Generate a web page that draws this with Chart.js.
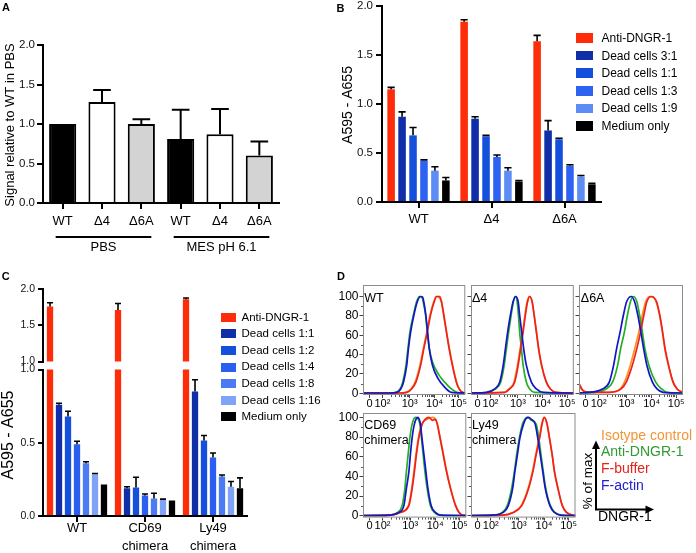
<!DOCTYPE html>
<html><head><meta charset="utf-8">
<script src="https://cdn.jsdelivr.net/npm/chart.js@4.4.1/dist/chart.umd.min.js"></script>
<style>
html,body{margin:0;padding:0;background:#fff;}
body{width:696px;height:553px;position:relative;overflow:hidden;font-family:"Liberation Sans",Arial,Helvetica,sans-serif;color:#000;}
canvas{position:absolute;}
.t{position:absolute;white-space:nowrap;font-weight:normal;}
.sw{position:absolute;}
</style></head><body>
<script>
// ================= DATA =================
// Panel A
const aCategories = ['WT', 'Δ4', 'Δ6A', 'WT', 'Δ4', 'Δ6A'];
const aValues = [1.00, 1.28, 1.00, 0.81, 0.87, 0.60];
const aSD     = [0, 0.15, 0.06, 0.37, 0.32, 0.18];
const aGroupLabels = ['PBS', 'MES pH 6.1'];
const aGroupOf = [0, 0, 0, 1, 1, 1];
const aYTicks = [0, 0.5, 1.0, 1.5, 2.0];
const aYTitle = 'Signal relative to WT in PBS';

// Panel B
const bCategories = ['WT', 'Δ4', 'Δ6A'];
const bSeries = ['Anti-DNGR-1', 'Dead cells 3:1', 'Dead cells 1:1', 'Dead cells 1:3', 'Dead cells 1:9', 'Medium only'];
const bAnti = [1.15, 1.84, 1.64];  const bAntiSD = [0.02, 0.02, 0.06];
const b3to1 = [0.87, 0.85, 0.73];  const b3to1SD = [0.05, 0.02, 0.10];
const b1to1 = [0.68, 0.67, 0.64];  const b1to1SD = [0.08, 0.01, 0.01];
const b1to3 = [0.42, 0.46, 0.37];  const b1to3SD = [0.01, 0.02, 0.01];
const b1to9 = [0.32, 0.32, 0.26];  const b1to9SD = [0.04, 0.03, 0.01];
const bMedium = [0.22, 0.21, 0.18]; const bMediumSD = [0.03, 0.01, 0.01];
const bYTicks = [0, 0.5, 1.0, 1.5, 2.0];
const abYTitle = 'A595 - A655';

// Panel C
const cCategories = ['WT', ['CD69', 'chimera'], ['Ly49', 'chimera']];
const cSeries = ['Anti-DNGR-1', 'Dead cells 1:1', 'Dead cells 1:2', 'Dead cells 1:4', 'Dead cells 1:8', 'Dead cells 1:16', 'Medium only'];
const cAnti  = [1.76, 1.71, 1.86];  const cAntiSD  = [0.05, 0.09, 0.015];
const c1to1  = [0.76, 0.19, 0.85];  const c1to1SD  = [0.01, 0.01, 0.08];
const c1to2  = [0.68, 0.195, 0.515]; const c1to2SD = [0.035, 0.07, 0.035];
const c1to4  = [0.49, 0.14, 0.40];  const c1to4SD  = [0.02, 0.01, 0.03];
const c1to8  = [0.36, 0.12, 0.27];  const c1to8SD  = [0.01, 0.035, 0.01];
const c1to16 = [0.285, 0.11, 0.20]; const c1to16SD = [0.005, 0.005, 0.035];
const cMedium = [0.215, 0.105, 0.19]; const cMediumSD = [0, 0, 0.07];
const cUpperTicks = [1.0, 1.5, 2.0];
const cLowerTicks = [0, 0.5, 1.0];
const cBreak = 1.0;

// Panel D (x in display units: ~log10 of fluorescence; y = % of max)
const dTickVals = [1.38, 1.9, 3, 4, 4.97];
const dTickLabels = ['0', '10²', '10³', '10⁴', '10⁵'];
const dYTicks = [0, 20, 40, 60, 80, 100];
const dSeries = ['Isotype control', 'Anti-DNGR-1', 'F-buffer', 'F-actin'];
const dPanelLabels = [['WT'], ['Δ4'], ['Δ6A'], ['CD69', 'chimera'], ['Ly49', 'chimera']];

const wtIso  = [[1.12,0.3],[2.6,0.3],[2.85,1.0],[3.05,4.5],[3.22,11.5],[3.41,28.8],[3.55,46.2],[3.69,63.5],[3.82,80.9],[3.97,94.8],[4.07,100],[4.18,99],[4.27,95],[4.37,82],[4.48,64],[4.6,46],[4.73,29],[4.89,11.5],[5.0,4.5],[5.12,1.0],[5.24,0.5]];
const wtAnti = [[1.12,0.3],[2.2,0.3],[2.45,1.0],[2.61,4.5],[2.72,11.5],[2.85,28.8],[2.93,46.2],[3.01,63.5],[3.15,80.9],[3.28,94.8],[3.39,100],[3.49,99.3],[3.57,91.3],[3.64,80.9],[3.71,63.5],[3.79,46.2],[3.92,32.3],[4.15,20.1],[4.41,11.5],[4.68,4.5],[4.95,0.7],[5.24,0.3]];
const wtFbuf = [[1.12,0.3],[2.6,0.3],[2.88,1.0],[3.08,4.5],[3.25,11.5],[3.44,28.8],[3.57,46.2],[3.71,63.5],[3.84,80.9],[3.99,94.8],[4.08,100],[4.21,100],[4.28,94.8],[4.37,80.9],[4.48,63.5],[4.59,46.2],[4.72,28.8],[4.88,11.5],[4.99,4.5],[5.12,1.0],[5.24,0.5]];
const wtFact = [[1.12,0.3],[2.2,0.3],[2.48,1.0],[2.64,4.5],[2.75,11.5],[2.88,28.8],[2.95,46.2],[3.04,63.5],[3.17,80.9],[3.31,94.8],[3.44,100],[3.52,99.3],[3.59,91.3],[3.65,80.9],[3.72,63.5],[3.79,46.2],[3.92,28.8],[4.15,14.9],[4.41,6.3],[4.68,1.0],[5.24,0.3]];

const d4Iso  = [[1.12,0.3],[2.45,1.0],[2.64,4.5],[2.84,11.5],[2.98,28.8],[3.09,46.2],[3.19,63.5],[3.28,80.9],[3.37,94.8],[3.46,100],[3.56,95],[3.65,81],[3.74,64],[3.83,46],[3.95,29],[4.14,11.5],[4.3,4.5],[4.54,1.0],[5.24,0.3]];
const d4Anti = [[1.12,0.3],[1.8,1.0],[2.1,4.5],[2.31,11.5],[2.45,28.8],[2.54,46.2],[2.63,63.5],[2.73,80.9],[2.82,94.8],[2.89,100],[2.97,94.8],[3.02,80.9],[3.07,63.5],[3.14,46.2],[3.21,28.8],[3.34,11.5],[3.47,4.5],[3.67,1.0],[5.24,0.3]];
const d4Fbuf = [[1.12,0.3],[2.47,1.0],[2.67,4.5],[2.87,11.5],[3.01,28.8],[3.11,46.2],[3.21,63.5],[3.3,80.9],[3.39,94.8],[3.47,100],[3.57,94.8],[3.65,80.9],[3.74,63.5],[3.83,46.2],[3.95,28.8],[4.14,11.5],[4.3,4.5],[4.54,1.0],[5.24,0.3]];
const d4Fact = [[1.12,0.3],[1.74,1.0],[2.07,4.5],[2.27,11.5],[2.41,28.8],[2.5,46.2],[2.59,63.5],[2.7,80.9],[2.81,94.8],[2.91,100],[3.01,94.8],[3.07,80.9],[3.15,63.5],[3.23,46.2],[3.34,28.8],[3.54,11.5],[3.74,4.5],[4.01,1.0],[5.24,0.3]];

const d6Iso  = [[1.12,8],[1.25,3],[1.39,1.2],[2.32,1.0],[2.75,4.5],[2.92,11.5],[3.15,28.8],[3.33,46.2],[3.49,63.5],[3.63,80.9],[3.76,94.8],[3.92,100],[4.15,96],[4.3,82],[4.42,64],[4.52,46],[4.66,29],[4.84,11.5],[5.0,4.5],[5.22,1.0]];
const d6Anti = [[1.12,0.5],[1.8,1.0],[2.19,4.5],[2.45,11.5],[2.65,28.8],[2.77,46.2],[2.92,63.5],[3.04,80.9],[3.16,94.8],[3.28,100],[3.41,94.8],[3.52,80.9],[3.63,63.5],[3.73,46.2],[3.89,28.8],[4.16,11.5],[4.39,4.5],[4.61,1.0],[5.24,0.3]];
const d6Fbuf = [[1.12,10],[1.25,4],[1.39,1.5],[2.32,1.0],[2.79,4.5],[2.99,11.5],[3.23,28.8],[3.41,46.2],[3.56,63.5],[3.69,80.9],[3.81,94.8],[3.99,100],[4.19,94.8],[4.32,80.9],[4.43,63.5],[4.53,46.2],[4.67,28.8],[4.85,11.5],[5.01,4.5],[5.23,1.0]];
const d6Fact = [[1.12,0.5],[1.52,1.0],[2.05,4.5],[2.32,11.5],[2.49,28.8],[2.61,46.2],[2.75,63.5],[2.88,80.9],[3.01,94.8],[3.19,100],[3.32,94.8],[3.45,80.9],[3.57,63.5],[3.68,46.2],[3.81,28.8],[4.03,11.5],[4.21,4.5],[4.45,1.0],[5.24,0.3]];

const cdIso  = [[1.12,0.3],[2.21,0.7],[2.6,3.4],[2.93,10.3],[3.06,27.6],[3.15,44.8],[3.23,62.1],[3.33,79.3],[3.46,93.1],[3.6,97],[3.75,99],[3.9,100],[4.02,98],[4.09,93],[4.2,79],[4.33,62],[4.46,45],[4.62,27.6],[4.82,10.3],[4.96,3.4],[5.09,0.7],[5.24,0.3]];
const cdAnti = [[1.12,0.3],[2.15,0.7],[2.5,3.4],[2.68,10.3],[2.79,27.6],[2.85,44.8],[2.92,62.1],[2.99,79.3],[3.08,93.1],[3.21,100],[3.39,93.1],[3.45,79.3],[3.52,62.1],[3.59,44.8],[3.68,27.6],[3.81,10.3],[3.97,3.4],[4.15,0.7],[5.24,0.3]];
const cdFbuf = [[1.12,0.3],[2.21,0.7],[2.61,3.4],[2.95,10.3],[3.08,27.6],[3.17,44.8],[3.25,62.1],[3.35,79.3],[3.48,93.1],[3.6,98],[3.75,100],[3.88,97],[4.01,98],[4.08,93.1],[4.19,79.3],[4.32,62.1],[4.45,44.8],[4.61,27.6],[4.81,10.3],[4.95,3.4],[5.08,0.7],[5.24,0.3]];
const cdFact = [[1.12,0.3],[2.21,0.7],[2.55,3.4],[2.75,10.3],[2.85,27.6],[2.95,44.8],[3.01,62.1],[3.08,79.3],[3.17,93.1],[3.31,100],[3.41,93.1],[3.47,79.3],[3.55,62.1],[3.63,44.8],[3.71,27.6],[3.84,10.3],[4.01,3.4],[4.21,0.7],[5.24,0.3]];

const lyIso  = [[1.12,0.3],[2.37,0.7],[2.77,3.4],[3.1,10.3],[3.37,27.6],[3.54,44.8],[3.67,62.1],[3.81,79.3],[3.91,93.1],[4.0,100],[4.11,94],[4.21,80],[4.32,62],[4.41,45],[4.55,27.6],[4.72,10.3],[4.89,3.4],[5.12,0.7],[5.24,0.3]];
const lyAnti = [[1.12,0.3],[1.95,0.7],[2.35,3.4],[2.55,10.3],[2.72,27.6],[2.83,44.8],[2.92,62.1],[3.03,79.3],[3.15,93.1],[3.35,100],[3.5,97],[3.69,93.1],[3.79,79.3],[3.88,62.1],[3.97,44.8],[4.07,27.6],[4.25,10.3],[4.43,3.4],[4.67,0.7],[5.24,0.3]];
const lyFbuf = [[1.12,0.3],[2.39,0.7],[2.79,3.4],[3.12,10.3],[3.39,27.6],[3.56,44.8],[3.69,62.1],[3.83,79.3],[3.92,93.1],[4.01,100],[4.12,93.1],[4.21,79.3],[4.32,62.1],[4.41,44.8],[4.55,27.6],[4.72,10.3],[4.89,3.4],[5.12,0.7],[5.24,0.3]];
const lyFact = [[1.12,0.3],[1.99,0.7],[2.39,3.4],[2.59,10.3],[2.76,27.6],[2.85,44.8],[2.95,62.1],[3.05,79.3],[3.19,93.1],[3.3,99],[3.39,100],[3.5,98],[3.65,93.1],[3.75,79.3],[3.85,62.1],[3.95,44.8],[4.05,27.6],[4.23,10.3],[4.41,3.4],[4.65,0.7],[5.24,0.3]];

// ================= STYLES =================
const FONT = '"Liberation Sans", Arial, Helvetica, sans-serif';
const aFill = ['#000000', '#ffffff', '#d3d3d3', '#000000', '#ffffff', '#d3d3d3'];
const bColors = ['#ff2c0a', '#0f2ea8', '#1450dc', '#2e62f0', '#5d8cf5', '#000000'];
const cColors = ['#ff2c0a', '#0f2ea8', '#1450dc', '#2b5ff0', '#4a7bf3', '#7ea3f7', '#000000'];
const dLineColors = ['#f7941d', '#24b024', '#ee2020', '#1414c8'];
const dTextColors = ['#f49436', '#2f9a2f', '#e5231b', '#2020d0'];
const dOrder = [4, 3, 2, 1];

Chart.defaults.font.family = FONT;
Chart.defaults.color = '#000';

// ================= HELPERS =================
function addCanvas(left, top, w, h) {
  const c = document.createElement('canvas');
  c.width = w; c.height = h;
  c.style.left = left + 'px'; c.style.top = top + 'px';
  c.style.width = w + 'px'; c.style.height = h + 'px';
  document.body.appendChild(c);
  return c;
}
function addText(txt, left, cy, size, color, bold) {
  const d = document.createElement('div');
  d.className = 't';
  d.textContent = txt;
  d.style.left = left + 'px';
  d.style.top = (cy - size / 2) + 'px';
  d.style.fontSize = size + 'px';
  d.style.lineHeight = size + 'px';
  if (color) d.style.color = color;
  if (bold) d.style.fontWeight = 'bold';
  document.body.appendChild(d);
  return d;
}
function addSwatch(left, cy, w, h, color) {
  const d = document.createElement('div');
  d.className = 'sw';
  d.style.left = left + 'px'; d.style.top = (cy - h / 2) + 'px';
  d.style.width = w + 'px'; d.style.height = h + 'px';
  d.style.background = color;
  document.body.appendChild(d);
}
const fixY = (w) => (s) => { s.width = w; s.paddingTop = 0; s.paddingBottom = 0; };
const fixX = (h) => (s) => { s.height = h; s.paddingLeft = 0; s.paddingRight = 0; };
const setTicks = (arr) => (s) => { s.ticks = arr.map(v => ({ value: v })); };

const errorBarsPlugin = {
  id: 'errorBars',
  afterDatasetsDraw(chart, args, opts) {
    const ctx = chart.ctx, ys = chart.scales.y;
    ctx.save();
    ctx.strokeStyle = '#000';
    ctx.lineWidth = opts.lineWidth || 1.5;
    chart.data.datasets.forEach((ds, di) => {
      if (!ds.sd) return;
      const meta = chart.getDatasetMeta(di);
      meta.data.forEach((bar, i) => {
        const v = ds.data[i], e = ds.sd[i];
        if (v == null || !e) return;
        if (v > ys.max || v + e > ys.max + 1e-6) return;
        const y0 = ys.getPixelForValue(v), y1 = ys.getPixelForValue(v + e);
        const half = bar.width * (opts.capRatio || 1) / 2;
        ctx.beginPath();
        ctx.moveTo(bar.x, y0); ctx.lineTo(bar.x, y1);
        ctx.moveTo(bar.x - half, y1); ctx.lineTo(bar.x + half, y1);
        ctx.stroke();
      });
    });
    ctx.restore();
  }
};

// rotated axis title drawn at a fixed canvas position
const vTitlePlugin = {
  id: 'vTitle',
  afterDraw(chart, args, opts) {
    if (!opts || !opts.text) return;
    const ctx = chart.ctx;
    ctx.save();
    ctx.translate(opts.x, opts.y);
    ctx.rotate(-Math.PI / 2);
    ctx.font = opts.size + 'px ' + FONT;
    ctx.fillStyle = '#000';
    ctx.textAlign = 'center'; ctx.textBaseline = 'middle';
    ctx.fillText(opts.text, 0, 0);
    ctx.restore();
  }
};

const groupPlugin = {
  id: 'groupLines',
  afterDraw(chart) {
    const ctx = chart.ctx, xs = chart.scales.x;
    ctx.save();
    ctx.strokeStyle = '#000'; ctx.lineWidth = 2; ctx.fillStyle = '#000';
    ctx.font = '13px ' + FONT; ctx.textAlign = 'center'; ctx.textBaseline = 'middle';
    aGroupLabels.forEach((lab, g) => {
      const idx = aGroupOf.map((gg, i) => gg === g ? i : -1).filter(i => i >= 0);
      const x0 = xs.getPixelForValue(idx[0]) - 7;
      const x1 = xs.getPixelForValue(idx[idx.length - 1]) + 10;
      ctx.beginPath(); ctx.moveTo(x0, 237); ctx.lineTo(x1, 237); ctx.stroke();
      ctx.fillText(lab, (x0 + x1) / 2, 247.5);
    });
    ctx.restore();
  }
};

const axisGrid = (len, w) => ({ drawOnChartArea: false, drawTicks: true, tickLength: len, color: '#000', lineWidth: w, offset: false });
const axisBorder = (w) => ({ display: true, color: '#000', width: w });
const baseOpts = (pad) => ({
  responsive: false, animation: false, events: [],
  layout: { padding: pad, autoPadding: false },
});

// ================= PANEL A =================
new Chart(addCanvas(0, 0, 340, 265), {
  type: 'bar',
  data: { labels: aCategories, datasets: [{ data: aValues, sd: aSD, backgroundColor: aFill, borderColor: '#000', borderWidth: 2, barPercentage: 0.69, categoryPercentage: 1 }] },
  options: Object.assign(baseOpts({ top: 45, right: 61, left: 0, bottom: 0 }), {
    plugins: { legend: { display: false }, tooltip: { enabled: false }, errorBars: { lineWidth: 2, capRatio: 0.65 },
               vTitle: { text: aYTitle, x: 10, y: 125, size: 13 } },
    scales: {
      x: { grid: axisGrid(6, 2), border: axisBorder(2), ticks: { font: { size: 13 }, padding: 5, color: '#000', autoSkip: false, maxRotation: 0 }, afterFit: fixX(62) },
      y: { min: 0, max: 2, afterBuildTicks: setTicks(aYTicks), grid: axisGrid(6, 2), border: axisBorder(2),
           ticks: { callback: v => v.toFixed(1), font: { size: 11.5 }, padding: 2, color: '#111' }, afterFit: fixY(43) }
    }
  }),
  plugins: [errorBarsPlugin, groupPlugin, vTitlePlugin]
});

// ================= PANEL B =================
const bData = [bAnti, b3to1, b1to1, b1to3, b1to9, bMedium];
const bSD = [bAntiSD, b3to1SD, b1to1SD, b1to3SD, b1to9SD, bMediumSD];
new Chart(addCanvas(340, 0, 356, 260), {
  type: 'bar',
  data: { labels: bCategories, datasets: bSeries.map((name, i) => ({ label: name, data: bData[i], sd: bSD[i], backgroundColor: bColors[i], barPercentage: 0.69, categoryPercentage: 0.9 })) },
  options: Object.assign(baseOpts({ top: 6, right: 95, left: 0, bottom: 0 }), {
    plugins: { legend: { display: false }, tooltip: { enabled: false }, errorBars: { lineWidth: 1.6, capRatio: 0.95 },
               vTitle: { text: abYTitle, x: 8.5, y: 105, size: 14 } },
    scales: {
      x: { grid: axisGrid(6, 2), border: axisBorder(2), ticks: { font: { size: 13 }, padding: 4, color: '#000' }, afterFit: fixX(58) },
      y: { min: 0, max: 2, afterBuildTicks: setTicks(bYTicks), grid: axisGrid(6, 2), border: axisBorder(2),
           ticks: { callback: v => v.toFixed(1), font: { size: 11.5 }, padding: 3, color: '#111' }, afterFit: fixY(42) }
    }
  }),
  plugins: [errorBarsPlugin, vTitlePlugin]
});
bSeries.forEach((name, i) => {
  const cy = 38 + i * 17.6;
  addSwatch(576, cy, 17, 9.5, bColors[i]);
  addText(name, 601.5, cy, 12);
});

// ================= PANEL C =================
const cData = [cAnti, c1to1, c1to2, c1to4, c1to8, c1to16, cMedium];
const cSD = [cAntiSD, c1to1SD, c1to2SD, c1to4SD, c1to8SD, c1to16SD, cMediumSD];
// upper segment (values above the axis break)
new Chart(addCanvas(0, 280, 340, 90), {
  type: 'bar',
  data: { labels: cCategories, datasets: cSeries.map((name, i) => ({ label: name, data: cData[i].map(v => v > cBreak ? v : null), sd: cSD[i], backgroundColor: cColors[i], barPercentage: 0.7, categoryPercentage: 0.926 })) },
  options: Object.assign(baseOpts({ top: 9, right: 93, left: 0, bottom: 8.5 }), {
    plugins: { legend: { display: false }, tooltip: { enabled: false }, errorBars: { lineWidth: 1.6, capRatio: 0.95 } },
    scales: {
      x: { display: false },
      y: { min: 1, max: 2, afterBuildTicks: setTicks(cUpperTicks), grid: axisGrid(5, 2), border: axisBorder(2),
           ticks: { callback: v => v.toFixed(1), font: { size: 10.5 }, padding: 3, color: '#111' }, afterFit: fixY(43) }
    }
  }),
  plugins: [errorBarsPlugin]
});
// lower segment
new Chart(addCanvas(0, 360, 340, 193), {
  type: 'bar',
  data: { labels: cCategories, datasets: cSeries.map((name, i) => ({ label: name, data: cData[i], sd: cSD[i], backgroundColor: cColors[i], barPercentage: 0.7, categoryPercentage: 0.926 })) },
  options: Object.assign(baseOpts({ top: 9.5, right: 93, left: 0, bottom: 0 }), {
    plugins: { legend: { display: false }, tooltip: { enabled: false }, errorBars: { lineWidth: 1.6, capRatio: 0.95 },
               vTitle: { text: abYTitle, x: 8.5, y: 75, size: 16 } },
    scales: {
      x: { grid: axisGrid(6, 2), border: axisBorder(2), ticks: { font: { size: 13, lineHeight: 1.4 }, padding: -3, color: '#000', autoSkip: false, maxRotation: 0 }, afterFit: fixX(37) },
      y: { min: 0, max: 1, afterBuildTicks: setTicks(cLowerTicks), grid: axisGrid(5, 2), border: axisBorder(2),
           ticks: { callback: v => v.toFixed(1), font: { size: 10.5 }, padding: 3, color: '#111' }, afterFit: fixY(43) }
    }
  }),
  plugins: [errorBarsPlugin, vTitlePlugin]
});
cSeries.forEach((name, i) => {
  const cy = 317.3 + i * 16.6;
  addSwatch(221, cy, 15, 9, cColors[i]);
  addText(name, 241.5, cy, 11.5);
});

// ================= PANEL D =================
const dCurves = [
  [wtIso, wtAnti, wtFbuf, wtFact],
  [d4Iso, d4Anti, d4Fbuf, d4Fact],
  [d6Iso, d6Anti, d6Fbuf, d6Fact],
  [cdIso, cdAnti, cdFbuf, cdFact],
  [lyIso, lyAnti, lyFbuf, lyFact]
];
const dBoxes = [
  { L: 362.7, T: 285, R: 465, B: 395, yMin: -1.76, yMax: 111.9, yLab: true },
  { L: 470.5, T: 285, R: 573.3, B: 395, yMin: -1.76, yMax: 111.9, yLab: false },
  { L: 579.3, T: 285, R: 683.3, B: 395, yMin: -1.76, yMax: 111.9, yLab: false },
  { L: 362.7, T: 412.7, R: 466, B: 517.3, yMin: -1.83, yMax: 104.4, yLab: true },
  { L: 470.5, T: 412.7, R: 575, B: 517.3, yMin: -1.83, yMax: 104.4, yLab: false }
];
const dYMinor = [10, 30, 50, 70, 90];
const dXMinor = [];
[2, 3, 4, 5, 6, 7, 8, 9].forEach(m => {
  dXMinor.push(1.9 + 1.1 * Math.log10(m));
  dXMinor.push(3 + Math.log10(m));
  dXMinor.push(4 + Math.log10(m));
});

const histFrame = {
  id: 'histFrame',
  afterDraw(chart) {
    const { ctx, chartArea: a, scales: { x, y } } = chart;
    ctx.save();
    ctx.strokeStyle = '#8c8c8c'; ctx.lineWidth = 1;
    ctx.strokeRect(a.left + 0.5, a.top + 0.5, a.right - a.left - 1, a.bottom - a.top - 1);
    ctx.strokeStyle = '#555';
    ctx.beginPath();
    dYMinor.forEach(v => { const py = Math.round(y.getPixelForValue(v)) + 0.5; ctx.moveTo(a.left - 2, py); ctx.lineTo(a.left, py); });
    dXMinor.forEach(v => { if (v < x.min || v > x.max) return; const px = Math.round(x.getPixelForValue(v)) + 0.5; ctx.moveTo(px, a.bottom); ctx.lineTo(px, a.bottom + 2); });
    ctx.stroke();
    ctx.restore();
  }
};

dBoxes.forEach((bx, p) => {
  const w = Math.round(bx.R - bx.L + 34), h = Math.round(bx.B - bx.T + 25);
  const cl = bx.L - 27, ct = bx.T - 5;
  const canvas = addCanvas(cl, ct, w, h);
  const padRight = w - 27 - (bx.R - bx.L);
  const xH = h - 5 - (bx.B - bx.T);
  new Chart(canvas, {
    type: 'scatter',
    data: { datasets: dCurves[p].map((pts, i) => ({
      label: dSeries[i], data: pts.map(q => ({ x: q[0], y: q[1] })),
      showLine: true, borderColor: dLineColors[i], borderWidth: 1.7, pointRadius: 0,
      cubicInterpolationMode: 'monotone', fill: false, order: dOrder[i]
    })) },
    options: Object.assign(baseOpts({ top: 5, right: padRight, left: 0, bottom: 0 }), {
      plugins: { legend: { display: false }, tooltip: { enabled: false } },
      scales: {
        x: { type: 'linear', min: 1.12, max: 5.24, afterBuildTicks: setTicks(dTickVals),
             ticks: { callback: v => dTickLabels[dTickVals.indexOf(v)], font: { size: 11 }, padding: -1, color: '#000', autoSkip: false, maxRotation: 0 },
             grid: { drawOnChartArea: false, drawTicks: true, tickLength: 3, color: '#444', lineWidth: 1 },
             border: { display: false }, afterFit: fixX(xH) },
        y: { min: bx.yMin, max: bx.yMax, afterBuildTicks: setTicks(dYTicks),
             ticks: { display: bx.yLab, font: { size: 12 }, padding: 1, color: '#000' },
             grid: { drawOnChartArea: false, drawTicks: true, tickLength: 3.5, color: '#444', lineWidth: 1 },
             border: { display: false }, afterFit: fixY(27) }
      }
    }),
    plugins: [histFrame]
  });
  const lines = dPanelLabels[p];
  const cy0 = p < 3 ? 298 : 425;
  lines.forEach((ln, k) => addText(ln, bx.L + 1.5, cy0 + k * 15, 12.5));
});

// D legend and axis key (rotated label drawn on a small canvas)
dSeries.forEach((name, i) => addText(name, 601, 434.5 + i * 16.8, 14, dTextColors[i]));
(function () {
  const c = addCanvas(578, 436, 80, 80);
  const ctx = c.getContext('2d');
  ctx.save();
  ctx.translate(588.5 - 578, 481 - 436);
  ctx.rotate(-Math.PI / 2);
  ctx.font = '13.5px ' + FONT; ctx.fillStyle = '#000';
  ctx.textAlign = 'center'; ctx.textBaseline = 'middle';
  ctx.fillText('% of max', 0, 0);
  ctx.restore();
})();
addText('DNGR-1', 598, 516, 14);
(function () {
  const ns = 'http://www.w3.org/2000/svg';
  const svg = document.createElementNS(ns, 'svg');
  svg.setAttribute('width', '696'); svg.setAttribute('height', '553');
  svg.style.position = 'absolute'; svg.style.left = '0'; svg.style.top = '0';
  svg.innerHTML =
    '<path d="M596 510 L596 447 M595 509.5 L647 509.5" stroke="#000" stroke-width="2" fill="none"/>' +
    '<path d="M596 440.5 L592 449 L600 449 Z" fill="#000"/>' +
    '<path d="M654 509.5 L645.5 505.5 L645.5 513.5 Z" fill="#000"/>';
  document.body.appendChild(svg);
})();

// Panel letters
addText('A', 2, 7.8, 11, '#000', true);
addText('B', 336.5, 8.4, 11, '#000', true);
addText('C', 1.7, 276.4, 11, '#000', true);
addText('D', 337, 276.6, 11, '#000', true);
</script>
</body></html>
